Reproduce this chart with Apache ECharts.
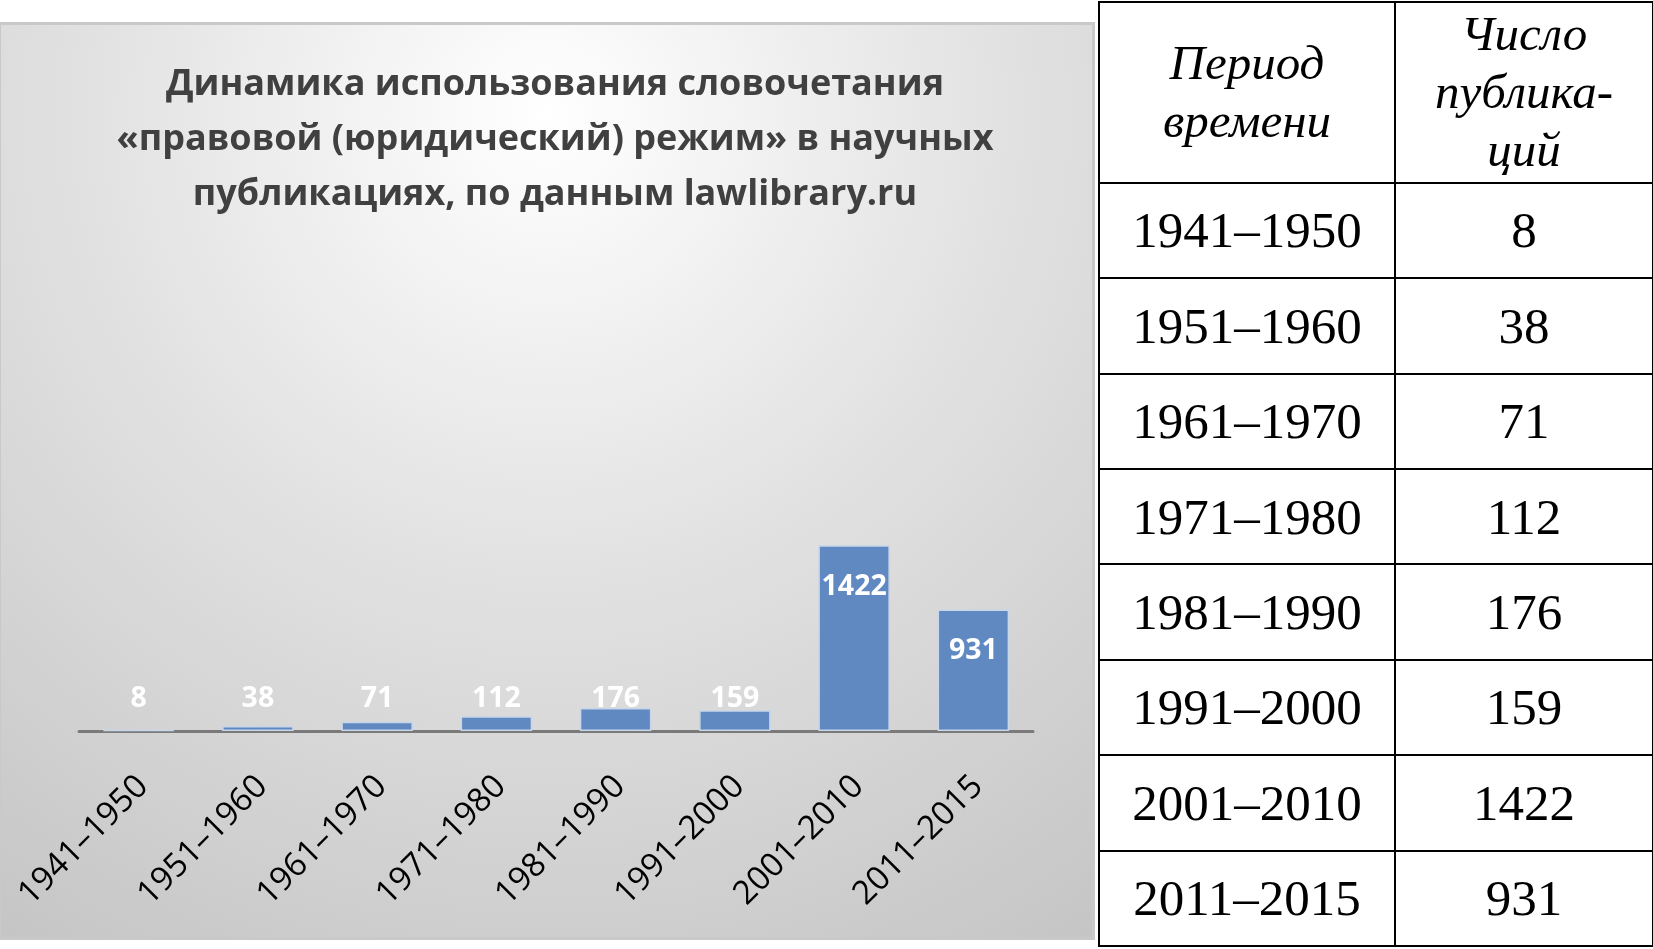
<!DOCTYPE html>
<html>
<head>
<meta charset="utf-8">
<script src="https://cdn.jsdelivr.net/npm/echarts@6/dist/echarts.min.js"></script>
<style>
  html, body { margin: 0; padding: 0; background: #ffffff; }
  #chart { position: absolute; left: 0; top: 0; width: 1653px; height: 949px; }
  #tbl { position: absolute; left: 1098px; top: 1px; width: 554px; height: 946px;
         border-collapse: collapse; font-family: 'Liberation Serif', 'Times New Roman', serif;
         color: #000; background: #fff; table-layout: fixed; }
  #tbl td, #tbl th { border: 2.5px solid #000; text-align: center; padding: 0; font-weight: normal; }
  #tbl th { font-style: italic; font-size: 49px; line-height: 58px; height: 178px; }
  #tbl td { font-size: 51px; height: 93px; }
</style>
</head>
<body>
<div id="chart"></div>
<table id="tbl"></table>
<script>
const categories = ['1941–1950','1951–1960','1961–1970','1971–1980','1981–1990','1991–2000','2001–2010','2011–2015'];
const counts = [8, 38, 71, 112, 176, 159, 1422, 931];
const titleLines = ['Динамика использования словочетания', '«правовой (юридический) режим» в научных', 'публикациях, по данным lawlibrary.ru'];
const tableHeader = ['Период<br>времени', 'Число<br>публика-<br>ций'];

// table built from the same arrays
const tbl = document.getElementById('tbl');
let html = '<colgroup><col style="width:296px"><col style="width:258px"></colgroup>';
html += '<tr><th>' + tableHeader[0] + '</th><th>' + tableHeader[1] + '</th></tr>';
categories.forEach((c, i) => { html += '<tr><td>' + c + '</td><td>' + counts[i] + '</td></tr>'; });
tbl.innerHTML = html;

const chart = echarts.init(document.getElementById('chart'), null, { renderer: 'canvas' });
const sans = "'Open Sans', 'Noto Sans', sans-serif";

chart.setOption({
  animation: false,
  graphic: [
    { type: 'rect', z: -10, shape: { x: 0, y: 22, width: 1095, height: 918 },
      style: { fill: '#c9c9c9' } },
    { type: 'rect', z: -9, shape: { x: 1, y: 25, width: 1091, height: 912 },
      style: { fill: { type: 'radial', x: 0.5, y: 0.1, r: 1.1,
        colorStops: [ { offset: 0, color: '#ffffff' }, { offset: 0.45, color: '#e2e2e2' }, { offset: 1, color: '#c4c4c4' } ] } } }
  ],
  title: {
    text: titleLines.join('\n'),
    left: 550, top: 52, textAlign: 'center',
    textStyle: { fontFamily: sans, fontWeight: 'bold', fontSize: 36, lineHeight: 55, color: '#404040' }
  },
  grid: { left: 79, right: 620, top: 522, bottom: 218 },
  xAxis: {
    type: 'category', data: categories,
    axisLine: { lineStyle: { color: '#7a7a7a', width: 3 } },
    axisTick: { show: false },
    axisLabel: { rotate: 45, margin: 46, verticalAlign: 'top', lineHeight: 12, interval: 0,
      fontFamily: sans, fontSize: 33, color: '#000' }
  },
  yAxis: { type: 'value', min: 0, max: 1600, show: false, splitLine: { show: false } },
  series: [{
    type: 'bar', barWidth: '60%',
    data: counts.map(v => ({
      value: v,
      label: v > 500 ? { position: 'insideTop', distance: 27 } : { position: 'insideBottom', distance: 18 }
    })),
    itemStyle: { color: '#6089c2', borderColor: '#c8d6ea', borderWidth: 1.5 },
    label: { show: true, color: '#ffffff', fontFamily: sans, fontWeight: 'bold', fontSize: 28.5 }
  }]
});
</script>
</body>
</html>
